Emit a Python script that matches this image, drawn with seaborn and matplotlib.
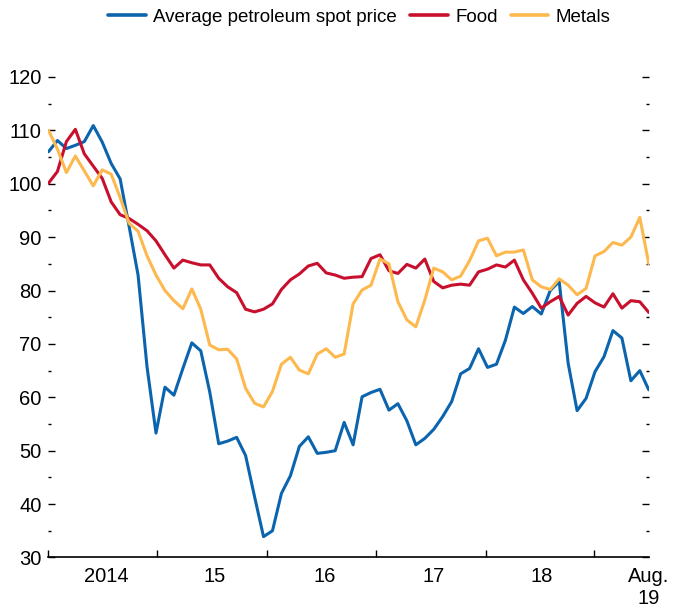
import numpy as np
import pandas as pd
import matplotlib
matplotlib.use("Agg")
import matplotlib.pyplot as plt
import seaborn as sns

# === Data (monthly, Jan 2014 - Aug 2019, index 2014 = 100) ===
months = pd.date_range("2014-01", "2019-08", freq="MS")

petroleum = [106.0, 108.1, 106.6, 107.2, 107.9, 110.9, 107.8, 103.8, 100.9, 92.0,
             82.9, 65.7, 53.3, 61.9, 60.4, 65.4, 70.2, 68.7, 61.0, 51.3,
             51.8, 52.5, 49.1, 41.4, 33.9, 35.0, 42.0, 45.3, 50.8, 52.6,
             49.5, 49.7, 50.0, 55.3, 51.1, 60.1, 60.9, 61.5, 57.6, 58.8,
             55.6, 51.1, 52.3, 54.0, 56.4, 59.2, 64.4, 65.4, 69.1, 65.6,
             66.2, 70.7, 76.9, 75.7, 77.0, 75.6, 80.0, 81.7, 66.4, 57.5,
             59.8, 64.8, 67.6, 72.5, 71.1, 63.1, 65.0, 61.4]

food = [100.1, 102.3, 107.9, 110.2, 105.6, 103.3, 101.0, 96.6, 94.2, 93.5,
        92.4, 91.2, 89.3, 86.7, 84.2, 85.7, 85.2, 84.8, 84.8, 82.3,
        80.7, 79.6, 76.5, 76.0, 76.5, 77.5, 80.2, 82.0, 83.1, 84.6,
        85.1, 83.3, 82.9, 82.3, 82.5, 82.6, 86.0, 86.7, 83.7, 83.2,
        84.9, 84.2, 85.9, 81.7, 80.5, 81.0, 81.2, 81.0, 83.5, 84.0,
        84.8, 84.4, 85.7, 82.0, 79.5, 76.7, 77.9, 78.9, 75.4, 77.6,
        78.9, 77.7, 76.9, 79.4, 76.7, 78.1, 77.9, 75.9]

metals = [110.0, 106.5, 102.1, 105.2, 102.4, 99.6, 102.6, 101.8, 97.4, 92.6,
          91.1, 86.5, 82.9, 80.0, 78.1, 76.6, 80.3, 76.5, 69.8, 68.9,
          69.0, 67.2, 61.7, 58.9, 58.2, 61.1, 66.2, 67.5, 65.1, 64.4,
          68.1, 69.1, 67.5, 68.1, 77.5, 80.1, 81.0, 85.9, 85.0, 77.9,
          74.5, 73.2, 78.2, 84.2, 83.5, 82.0, 82.7, 85.6, 89.3, 89.8,
          86.5, 87.2, 87.2, 87.6, 82.0, 80.7, 80.2, 82.2, 81.0, 79.2,
          80.4, 86.5, 87.3, 89.0, 88.5, 90.0, 93.7, 85.0]

series_names = ["Average petroleum spot price", "Food", "Metals"]
colors = ["#0b64ae", "#c8102e", "#fdb84e"]

# x axis: year separators and labels (month index from Jan 2014)
year_ticks = [0, 12.1, 24.4, 36.6, 48.8, 60.9]
label_pos = [6.5, 18.5, 30.8, 43.0, 55.1, 67]
label_txt = ["2014", "15", "16", "17", "18", "Aug.\n19"]

# === Long-form table for seaborn ===
t = np.arange(len(months))
df = pd.DataFrame({
    "t": np.tile(t, 3),
    "value": petroleum + food + metals,
    "series": np.repeat(series_names, len(months)),
})

sns.set_style("ticks")
plt.rcParams["font.family"] = ["Liberation Sans", "DejaVu Sans"]
plt.rcParams["text.color"] = "black"
plt.rcParams["xtick.color"] = "black"
plt.rcParams["ytick.color"] = "black"

fig = plt.figure(figsize=(6.78, 6.10), dpi=100)
ax = fig.add_axes([0.0715, 0.0861, 0.8854, 0.7877])

sns.lineplot(data=df, x="t", y="value", hue="series", hue_order=series_names,
             palette=colors, linewidth=2.2, ax=ax)

ax.set_xlim(0, 67)
ax.set_ylim(30, 120)
ax.set_xlabel("")
ax.set_ylabel("")

# y ticks: labels left, marks inside on both sides
ax.set_yticks(np.arange(30, 121, 10))
ax.set_yticks(np.arange(35, 120, 10), minor=True)
ax.tick_params(axis="y", which="both", direction="in", left=True, right=True,
               labelsize=14.5, pad=5, color="black", labelcolor="black")
ax.tick_params(axis="y", which="major", length=5, width=1)
ax.tick_params(axis="y", which="minor", length=2.2, width=1)

# x ticks: separators as major ticks, year labels as minor ticks
ax.set_xticks(year_ticks)
ax.set_xticklabels([""] * len(year_ticks))
ax.set_xticks(label_pos, minor=True)
ax.set_xticklabels(label_txt, minor=True)
ax.tick_params(axis="x", which="major", direction="in", length=5, width=1,
               color="black")
ax.tick_params(axis="x", which="minor", length=0, labelsize=14.5, pad=7,
               labelcolor="black")

for side in ["top", "left", "right"]:
    ax.spines[side].set_visible(False)
ax.spines["bottom"].set_linewidth(1.2)
ax.spines["bottom"].set_color("black")

# legend on top
ax.get_legend().remove()
handles = [plt.Line2D([], [], color=c, lw=2.6) for c in colors]
fig.legend(handles, series_names, loc="center", bbox_to_anchor=(0.53, 0.972),
           ncol=3, frameon=False, fontsize=13.5, handlelength=2.0,
           columnspacing=0.7, handletextpad=0.4, labelcolor="black")

fig.savefig("out.png", dpi=100)
